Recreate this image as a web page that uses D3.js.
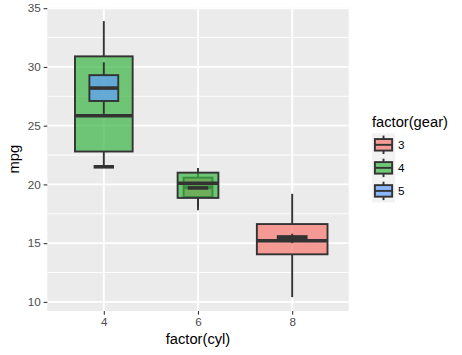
<!DOCTYPE html>
<html>
<head>
<meta charset="utf-8">
<script src="https://d3js.org/d3.v7.min.js"></script>
<style>
  html, body { margin: 0; padding: 0; background: #ffffff; }
  svg { display: block; font-family: "Liberation Sans", Arial, Helvetica, sans-serif; }
</style>
</head>
<body>
<svg id="chart" width="462" height="355"></svg>
<script>
// ---- data (mpg by factor(cyl), filled by factor(gear), varwidth boxes) ----
const cylCategories = ["4", "6", "8"];
const gearLevels = ["3", "4", "5"];
const gearColors = ["#F8766D", "#37B543", "#619CFF"];

const groupCyl   = ["4", "4", "4", "6", "6", "6", "8", "8"];
const groupGear  = ["3", "4", "5", "3", "4", "5", "3", "5"];
const groupN     = [1, 8, 2, 2, 4, 1, 12, 2];
const whiskerLow = [21.5, 21.4, 26.0, 18.1, 17.8, 19.7, 10.4, 15.0];
const boxQ1      = [21.5, 22.8, 27.1, 18.925, 18.85, 19.7, 14.05, 15.2];
const boxMedian  = [21.5, 25.85, 28.2, 19.75, 20.1, 19.7, 15.2, 15.4];
const boxQ3      = [21.5, 30.9, 29.3, 20.575, 21.0, 19.7, 16.625, 15.6];
const whiskerHigh= [21.5, 33.9, 30.4, 21.4, 21.0, 19.7, 19.2, 15.8];

const yTicks = [10, 15, 20, 25, 30, 35];
const yMinor = [12.5, 17.5, 22.5, 27.5, 32.5];
const yDomain = [9.225, 35.075];

// ---- layout ----
const svg = d3.select("#chart");
const panel = { left: 47.3, right: 348.7, top: 7.3, bottom: 311 };
const boxWidthFrac = 0.75;
const alphaFill = 0.7;

const xIndex = d3.scalePoint().domain(cylCategories).range([1, 3]);
const xPos = d3.scaleLinear().domain([0.4, 3.6]).range([panel.left, panel.right]);
const x = c => xPos(xIndex(c));
const unitPx = xPos(1) - xPos(0);
const y = d3.scaleLinear().domain(yDomain).range([panel.bottom, panel.top]);
const fill = d3.scaleOrdinal().domain(gearLevels).range(gearColors);

const maxN = d3.max(groupN);

// panel background
svg.append("rect")
  .attr("x", panel.left).attr("y", panel.top)
  .attr("width", panel.right - panel.left).attr("height", panel.bottom - panel.top)
  .attr("fill", "#EBEBEB");

// minor grid
svg.append("g").selectAll("line").data(yMinor).join("line")
  .attr("x1", panel.left).attr("x2", panel.right)
  .attr("y1", d => y(d)).attr("y2", d => y(d))
  .attr("stroke", "#ffffff").attr("stroke-width", 0.95);

// major grid
svg.append("g").selectAll("line").data(yTicks).join("line")
  .attr("x1", panel.left).attr("x2", panel.right)
  .attr("y1", d => y(d)).attr("y2", d => y(d))
  .attr("stroke", "#ffffff").attr("stroke-width", 1.9);
svg.append("g").selectAll("line").data(cylCategories).join("line")
  .attr("x1", d => x(d)).attr("x2", d => x(d))
  .attr("y1", panel.top).attr("y2", panel.bottom)
  .attr("stroke", "#ffffff").attr("stroke-width", 1.9);

// boxes
const groups = groupCyl.map((c, i) => ({
  cyl: c, gear: groupGear[i], n: groupN[i],
  lo: whiskerLow[i], q1: boxQ1[i], med: boxMedian[i], q3: boxQ3[i], hi: whiskerHigh[i]
}));

const outline = "#333333";
const gBoxes = svg.append("g");
groups.forEach(d => {
  const cx = x(d.cyl);
  const w = boxWidthFrac * Math.sqrt(d.n / maxN) * unitPx;
  const g = gBoxes.append("g");
  // whiskers
  g.append("line").attr("x1", cx).attr("x2", cx)
    .attr("y1", y(d.hi)).attr("y2", y(d.q3))
    .attr("stroke", outline).attr("stroke-width", 1.9);
  g.append("line").attr("x1", cx).attr("x2", cx)
    .attr("y1", y(d.q1)).attr("y2", y(d.lo))
    .attr("stroke", outline).attr("stroke-width", 1.9);
  // box
  g.append("rect")
    .attr("x", cx - w / 2).attr("width", w)
    .attr("y", y(d.q3)).attr("height", Math.max(0, y(d.q1) - y(d.q3)))
    .attr("fill", fill(d.gear)).attr("fill-opacity", alphaFill)
    .attr("stroke", outline).attr("stroke-width", 1.9);
  // median
  g.append("line")
    .attr("x1", cx - w / 2).attr("x2", cx + w / 2)
    .attr("y1", y(d.med)).attr("y2", y(d.med))
    .attr("stroke", outline).attr("stroke-width", 3.6);
});

// axes
const yAxis = d3.axisLeft(y).tickValues(yTicks).tickSize(3.67).tickPadding(2.9).tickFormat(d3.format("d"));
const gy = svg.append("g").attr("transform", `translate(${panel.left},0)`).call(yAxis);
gy.select(".domain").remove();
gy.selectAll(".tick line").attr("stroke", "#333333").attr("stroke-width", 1.07);
gy.selectAll(".tick text").attr("fill", "#4D4D4D").attr("font-size", "11.7px")
  .attr("font-family", "Liberation Sans, Arial, sans-serif");

const xAxis = d3.axisBottom(d3.scalePoint().domain(cylCategories).range([x("4"), x("8")]))
  .tickSize(3.67).tickPadding(2.9);
const gx = svg.append("g").attr("transform", `translate(0,${panel.bottom})`).call(xAxis);
gx.select(".domain").remove();
gx.selectAll(".tick line").attr("stroke", "#333333").attr("stroke-width", 1.07);
gx.selectAll(".tick text").attr("fill", "#4D4D4D").attr("font-size", "11.7px")
  .attr("font-family", "Liberation Sans, Arial, sans-serif");

// axis titles
svg.append("text")
  .attr("x", (panel.left + panel.right) / 2).attr("y", 344)
  .attr("text-anchor", "middle").attr("font-size", "14.7px").attr("fill", "#000")
  .text("factor(cyl)");
svg.append("text")
  .attr("transform", `translate(18.5,${(panel.top + panel.bottom) / 2}) rotate(-90)`)
  .attr("text-anchor", "middle").attr("font-size", "14.7px").attr("fill", "#000")
  .text("mpg");

// legend
const legX = 372, legTitleY = 127, keyTop = 133.3, keySize = 23.04;
const leg = svg.append("g");
leg.append("text").attr("x", legX).attr("y", legTitleY)
  .attr("font-size", "14.7px").attr("fill", "#000").text("factor(gear)");
gearLevels.forEach((gv, i) => {
  const ky = keyTop + i * keySize;
  const k = leg.append("g").attr("transform", `translate(${legX},${ky})`);
  k.append("rect").attr("width", keySize).attr("height", keySize).attr("fill", "#F2F2F2");
  const s = keySize;
  k.append("line").attr("x1", s / 2).attr("x2", s / 2).attr("y1", s * 0.1).attr("y2", s * 0.25)
    .attr("stroke", outline).attr("stroke-width", 1.9);
  k.append("line").attr("x1", s / 2).attr("x2", s / 2).attr("y1", s * 0.75).attr("y2", s * 0.9)
    .attr("stroke", outline).attr("stroke-width", 1.9);
  k.append("rect").attr("x", s * 0.125).attr("y", s * 0.25).attr("width", s * 0.75).attr("height", s * 0.5)
    .attr("fill", fill(gv)).attr("fill-opacity", alphaFill)
    .attr("stroke", outline).attr("stroke-width", 1.9);
  k.append("line").attr("x1", s * 0.125).attr("x2", s * 0.875).attr("y1", s / 2).attr("y2", s / 2)
    .attr("stroke", outline).attr("stroke-width", 1.9);
  leg.append("text").attr("x", legX + keySize + 2.9).attr("y", ky + keySize / 2)
    .attr("dominant-baseline", "central")
    .attr("font-size", "11.7px").attr("fill", "#000").text(gv);
});
</script>
</body>
</html>
